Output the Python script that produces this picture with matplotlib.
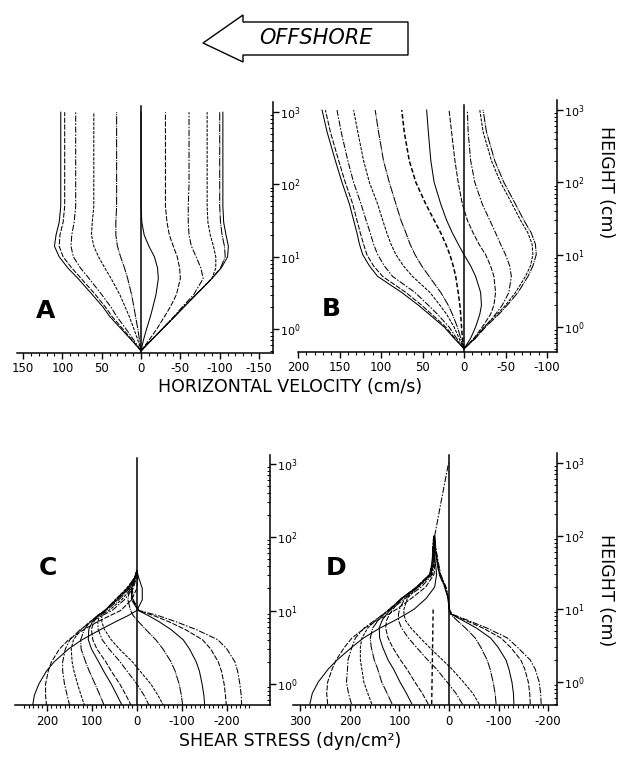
import numpy as np
import matplotlib
matplotlib.use("Agg")
import matplotlib.pyplot as plt
from matplotlib.patches import Polygon
from matplotlib.ticker import FixedLocator, LogLocator, NullFormatter

plt.rcParams["font.family"] = "DejaVu Sans"
plt.rcParams["axes.unicode_minus"] = False

W, H = 624, 757
nan = np.nan

# ─── DATA ───────────────────────────────────────────────────
# heights (cm) at which the velocity profiles were read
Z_VEL = [0.5, 0.7, 1, 1.5, 2, 3, 5, 7, 10, 14, 20, 30, 50, 100, 200, 500, 1000]

# panel A: horizontal velocity (cm/s), one profile per phase
VEL_A = [
    [0, 12, 25, 40, 48, 62, 80, 93, 104, 110, 108, 104, 102, 102, 102, 102, 102],
    [0, 11, 23, 37, 45, 58, 76, 88, 99, 104, 103, 99, 97, 97, 97, 97, 97],
    [0, 9, 19, 31, 38, 50, 66, 77, 86, 89, 88, 85, 83, 83, 83, 83, 83],
    [0, 4, 9, 15, 20, 27, 38, 46, 54, 60, 63, 62, 60, 60, 60, 60, 60],
    [0, 2, 4, 7, 9, 12, 17, 21, 26, 30, 32, 32, 31, 31, 31, 31, 31],
    [0, -3, -7, -12, -15, -19, -22, -21, -17, -10, -4, -1, 0, 0, 0, 0, 0],
    [0, -10, -20, -30, -37, -45, -50, -49, -46, -41, -36, -33, -31, -31, -31, -31, -31],
    [0, -13, -27, -42, -52, -67, -79, -76, -70, -64, -61, -60, -60, -61, -61, -61, -61],
    [0, -13, -27, -43, -54, -70, -90, -95, -95, -92, -88, -85, -84, -84, -84, -84, -84],
    [0, -13, -27, -43, -54, -70, -90, -101, -107, -106, -103, -101, -100, -100, -100, -100, -100],
    [0, -13, -27, -43, -54, -70, -90, -102, -110, -111, -108, -105, -104, -104, -104, -104, -104],
]

# panel B: horizontal velocity (cm/s)
VEL_B = [
    [0, 12, 24, 42, 55, 75, 104, 114, 122, 126, 129, 133, 138, 147, 155, 165, 171],
    [0, 11, 22, 39, 51, 70, 98, 109, 117, 121, 125, 129, 134, 143, 151, 161, 167],
    [0, 9, 18, 32, 43, 59, 86, 96, 104, 109, 113, 118, 124, 133, 140, 148, 153],
    [0, 6, 12, 21, 29, 41, 62, 73, 82, 88, 93, 98, 104, 114, 121, 128, 133],
    [0, 4, 8, 14, 19, 28, 42, 51, 59, 65, 70, 76, 82, 90, 97, 103, 107],
    [0, -8, -14, -19, -21, -20, -14, -8, 0, 7, 14, 21, 28, 36, 40, 43, 45],
    [0, -12, -22, -32, -36, -38, -36, -32, -26, -18, -11, -4, 2, 7, 11, 15, 18],
    [0, -13, -25, -38, -46, -54, -57, -55, -50, -44, -38, -31, -22, -13, -8, -5, -4],
    [0, -13, -24, -40, -50, -62, -74, -80, -83, -82, -77, -68, -58, -44, -33, -23, -19],
    [0, -14, -26, -42, -52, -65, -77, -83, -87, -86, -81, -72, -62, -48, -37, -27, -23],
]
VEL_B_DASHED = [0, 2, 3, 4, 5, 7, 10, 13, 17, 22, 28, 36, 46, 58, 66, 72, 75]

# panel C: shear stress (dyn/cm2)
Z_TAU_C = [0.5, 0.7, 1, 1.5, 2, 3, 4, 5.5, 7, 8.5, 10, 14, 20, 28, 35]
TAU_C = [
    [232, 228, 218, 201, 184, 152, 122, 81, 48, 20, 0, -12, -12, -4, 0],
    [201, 203, 203, 197, 190, 172, 152, 118, 88, 60, 36, 12, 0, -2, 0],
    [149, 155, 161, 165, 165, 159, 149, 126, 102, 78, 55, 28, 8, 1, 0],
    [116, 124, 132, 140, 144, 146, 141, 124, 105, 84, 62, 34, 12, 2, 0],
    [72, 82, 93, 106, 114, 124, 125, 117, 104, 88, 68, 40, 16, 3, 0],
    [32, 44, 57, 74, 85, 101, 108, 107, 99, 88, 71, 44, 19, 4, 0],
    [12, 24, 38, 57, 69, 89, 98, 101, 96, 87, 72, 46, 20, 4, 0],
    [-28, -16, 0, 22, 37, 62, 77, 86, 87, 83, 71, 48, 22, 5, 0],
    [-60, -47, -31, -7, 10, 39, 57, 72, 78, 78, 70, 48, 23, 5, 0],
    [-102, -99, -94, -85, -76, -58, -42, -20, -4, 8, 14, 20, 16, 5, 0],
    [-151, -149, -145, -139, -132, -117, -103, -76, -50, -26, -3, 12, 12, 5, 0],
    [-199, -197, -194, -188, -181, -164, -146, -108, -72, -38, -4, 10, 11, 4, 0],
    [-233, -232, -229, -224, -218, -200, -180, -132, -88, -48, -5, 8, 10, 4, 0],
]

# panel D: shear stress (dyn/cm2)
Z_TAU_D = [0.5, 0.7, 1, 1.5, 2, 3, 4, 5.5, 7, 8.5, 10, 14, 20, 30, 45, 70, 100, 250, 1000]
TAU_D = [
    [281, 276, 264, 244, 226, 196, 173, 139, 109, 87, 70, 46, 29, 25, 28, 30, 30, nan, nan],
    [245, 247, 245, 236, 228, 211, 196, 170, 144, 122, 105, 76, 47, 30, 29, 31, 30, nan, nan],
    [197, 203, 207, 205, 204, 196, 189, 171, 150, 132, 116, 88, 56, 33, 30, 29, 30, nan, nan],
    [156, 164, 172, 176, 179, 179, 176, 164, 148, 133, 120, 93, 61, 35, 31, 30, 29, nan, nan],
    [115, 125, 136, 144, 151, 157, 159, 154, 143, 131, 120, 96, 64, 36, 32, 31, 30, nan, nan],
    [75, 86, 99, 112, 123, 134, 140, 141, 135, 126, 117, 96, 65, 37, 33, 32, 30, nan, nan],
    [42, 54, 69, 85, 98, 114, 123, 128, 126, 120, 113, 95, 66, 38, 34, 32, 31, nan, nan],
    [-27, -14, 4, 25, 43, 66, 82, 96, 102, 102, 100, 89, 65, 39, 34, 33, 31, nan, nan],
    [-61, -48, -29, -6, 13, 40, 58, 77, 88, 91, 91, 84, 64, 39, 33, 32, 31, nan, nan],
    [-95, -93, -89, -83, -77, -64, -53, -33, -16, -3, 0, 2, 9, 20, 25, 28, 29, nan, nan],
    [-131, -130, -127, -121, -115, -99, -84, -55, -27, -4, 0, 2, 8, 19, 24, 28, 29, nan, nan],
    [-164, -163, -160, -153, -145, -124, -105, -68, -33, -5, -1, 1, 7, 18, 23, 27, 29, nan, nan],
    [-186, -185, -182, -174, -164, -138, -118, -76, -38, -6, -1, 1, 6, 17, 22, 27, 29, 18, 1],
]
Z_MEAN_D = [0.5, 10]
TAU_MEAN_D = [35, 32]

YTICKS = [1, 10, 100, 1000]
YTICK_LABELS = [r"$10^{0}$", r"$10^{1}$", r"$10^{2}$", r"$10^{3}$"]

STYLES = ["-", (0, (5, 1.5)), (0, (6, 1.5, 1.5, 1.5)), (0, (3, 1.2)), (0, (8, 1, 1, 1))]


def px_axes(fig, x0, x1, y_top, y_bot):
    return fig.add_axes([x0 / W, 1 - y_bot / H, (x1 - x0) / W, (y_bot - y_top) / H])


def setup(ax, xlim, ylim, major, minor, zero_top):
    ax.set_yscale("log")
    ax.set_xlim(*xlim)
    ax.set_ylim(*ylim)
    ax.patch.set_visible(False)
    for s in ("left", "top"):
        ax.spines[s].set_visible(False)
    for s in ("right", "bottom"):
        ax.spines[s].set_linewidth(1.1)
    ax.yaxis.tick_right()
    ax.yaxis.set_major_locator(FixedLocator(YTICKS))
    ax.yaxis.set_major_formatter(plt.FixedFormatter(YTICK_LABELS))
    ax.yaxis.set_minor_locator(LogLocator(base=10, subs=np.arange(2, 10)))
    ax.yaxis.set_minor_formatter(NullFormatter())
    ax.set_xticks(major)
    ax.set_xticklabels([str(v) for v in major])
    ax.set_xticks(minor, minor=True)
    ax.tick_params(axis="x", which="major", direction="out", length=4, width=1, labelsize=8.5, pad=3)
    ax.tick_params(axis="x", which="minor", direction="out", length=2.5, width=0.8)
    ax.tick_params(axis="y", which="major", direction="out", length=4, width=1, labelsize=8, pad=1)
    ax.tick_params(axis="y", which="minor", direction="in", length=2, width=0.7)
    ax.plot([0, 0], [ylim[0], zero_top], color="black", lw=1.1, zorder=3)


def draw_profiles(ax, values, z):
    for i, prof in enumerate(values):
        ax.plot(prof, z, color="black", lw=0.75, ls=STYLES[i % len(STYLES)])


fig = plt.figure(figsize=(W / 100, H / 100), dpi=100)

# A
axA = px_axes(fig, 17, 273, 101.7, 352.7)
setup(axA, (157.6, -167.7), (0.471, 1396), list(range(150, -151, -50)),
      np.arange(-150, 151, 10), 1230)
draw_profiles(axA, VEL_A, Z_VEL)

# B
axB = px_axes(fig, 298, 557, 100, 351.7)
setup(axB, (200, -112), (0.455, 1380), list(range(200, -101, -50)),
      np.arange(-100, 201, 10), 1170)
draw_profiles(axB, VEL_B, Z_VEL)
axB.plot(VEL_B_DASHED, Z_VEL, color="black", lw=1.1, ls=(0, (3, 1.5)))

# C
axC = px_axes(fig, 15, 270, 455, 705)
setup(axC, (271, -296), (0.518, 1306), list(range(200, -201, -100)),
      np.arange(-250, 251, 10), 1200)
draw_profiles(axC, TAU_C, Z_TAU_C)

# D
axD = px_axes(fig, 293, 557, 453, 705)
setup(axD, (315, -218), (0.484, 1371), list(range(300, -201, -100)),
      np.arange(-200, 301, 10), 1300)
draw_profiles(axD, TAU_D, Z_TAU_D)
axD.plot(TAU_MEAN_D, Z_MEAN_D, color="black", lw=1.0, ls=(0, (3, 2)))

# panel letters
for letter, (x, y) in zip("ABCD", [(46, 311), (331, 309), (48, 568), (336, 568)]):
    fig.text(x / W, 1 - y / H, letter, fontsize=18, fontweight="bold", ha="center", va="center")

# axis titles
fig.text(290 / W, 1 - 387 / H, "HORIZONTAL VELOCITY (cm/s)", fontsize=12.5, ha="center", va="center")
fig.text(290 / W, 1 - 741 / H, "SHEAR STRESS (dyn/cm²)", fontsize=12.5, ha="center", va="center")
for yc in (182, 590):
    fig.text(606 / W, 1 - yc / H, "HEIGHT (cm)", fontsize=12.5, rotation=270, ha="center", va="center")

# offshore arrow
arrow_px = [(203, 43), (243, 15), (243, 22), (408, 22), (408, 55), (243, 55), (243, 62)]
arrow = Polygon([(x / W, 1 - y / H) for x, y in arrow_px], closed=True, fill=False,
                edgecolor="black", lw=1.0, transform=fig.transFigure)
fig.add_artist(arrow)
fig.text(316 / W, 1 - 38 / H, "OFFSHORE", fontsize=15, style="italic", ha="center", va="center")

fig.savefig("out.png", dpi=100)
